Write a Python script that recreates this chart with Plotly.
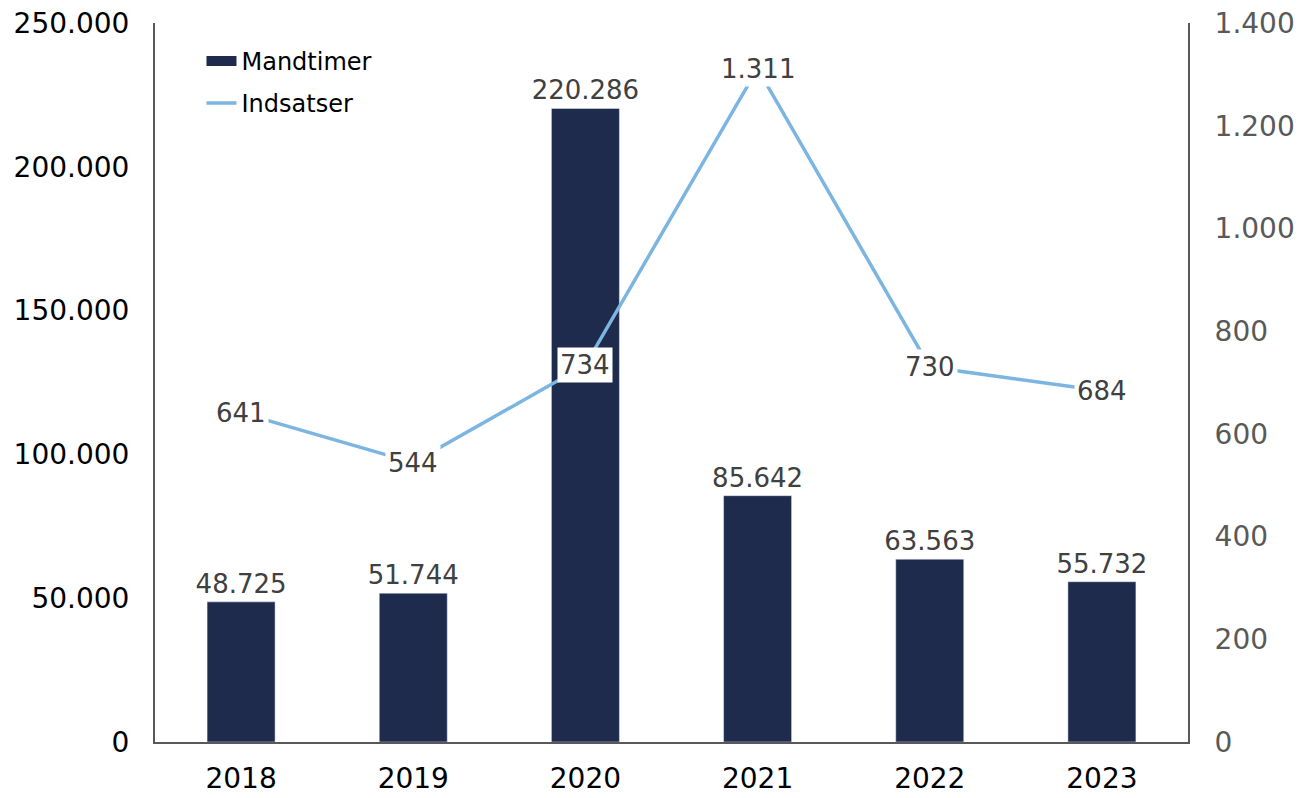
import plotly.graph_objects as go

years = [2018, 2019, 2020, 2021, 2022, 2023]
mandtimer = [48725, 51744, 220286, 85642, 63563, 55732]
indsatser = [641, 544, 734, 1311, 730, 684]

BAR = "#1F2B4D"
LINE = "#7BB5E0"
FONT = "DejaVu Sans"

fig = go.Figure()
fig.add_trace(go.Bar(
    x=years, y=mandtimer, name="Mandtimer", marker_color=BAR, width=0.395,
    texttemplate="%{y:,d}", textposition="outside", cliponaxis=False,
    constraintext="none",
    textfont=dict(family=FONT, size=26, color="#404040"),
    showlegend=False,
))
# legend-only proxy so the bar legend key is a wide rectangle
fig.add_trace(go.Scatter(
    x=[years[0]], y=[None], name="Mandtimer", mode="lines",
    line=dict(color=BAR, width=13), legendgroup="a",
))
fig.add_trace(go.Scatter(
    x=years, y=indsatser, name="Indsatser", mode="lines", yaxis="y2",
    line=dict(color=LINE, width=3.5), legendgroup="b",
))
for yr, v in zip(years, indsatser):
    fig.add_annotation(
        x=yr, y=v, xref="x", yref="y2", text=f"{v:,}".replace(",", "."),
        showarrow=False, bgcolor="white", borderpad=2,
        font=dict(family=FONT, size=26, color="#404040"),
    )

fig.update_layout(
    width=1311, height=798,
    margin=dict(l=147, r=131, t=15, b=64, autoexpand=False),
    plot_bgcolor="white", paper_bgcolor="white",
    separators=",.",
    font=dict(family=FONT, size=28, color="#000000"),
    showlegend=True,
    legend=dict(x=0.045, y=0.978, xanchor="left", yanchor="top",
                font=dict(family=FONT, size=24, color="#000000"),
                bgcolor="rgba(0,0,0,0)", itemwidth=30, tracegroupgap=8,
                traceorder="grouped"),
    xaxis=dict(range=[2017.5, 2023.5], tickvals=years, tickformat="d",
               showline=True, linecolor="#595959", linewidth=2,
               showgrid=False, zeroline=False, automargin=False,
               ticks="outside", ticklen=10, tickcolor="rgba(0,0,0,0)",
               ticklabeloverflow="allow",
               tickfont=dict(family=FONT, size=28, color="#000000")),
    yaxis=dict(range=[0, 250000], dtick=50000, tickformat=",d", showgrid=False,
               showline=True, linecolor="#595959", linewidth=2,
               ticks="outside", ticklen=18, tickcolor="rgba(0,0,0,0)",
               zeroline=False, automargin=False, ticklabeloverflow="allow",
               tickfont=dict(family=FONT, size=28, color="#000000")),
    yaxis2=dict(range=[0, 1400], dtick=200, tickformat=",d", showgrid=False,
                overlaying="y", side="right", showline=True, linecolor="#595959",
                linewidth=2, ticks="outside", ticklen=19, automargin=False,
                tickcolor="rgba(0,0,0,0)", zeroline=False,
                ticklabeloverflow="allow",
                tickfont=dict(family=FONT, size=28, color="#595959")),
)

fig.write_html("out.html")
